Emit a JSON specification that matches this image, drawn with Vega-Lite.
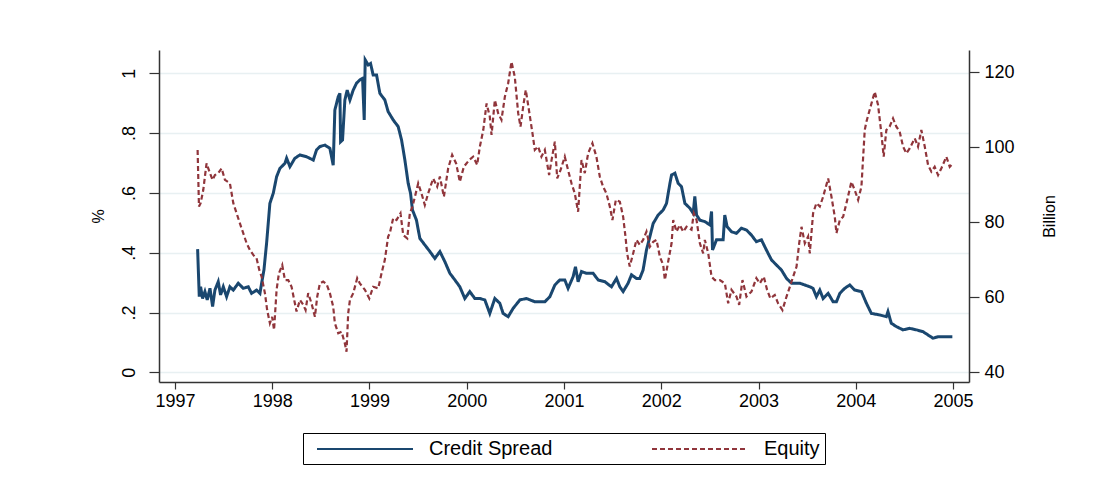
{
  "$schema": "https://vega.github.io/schema/vega-lite/v6.json",
  "autosize": {"type": "none"},
  "padding": {"left": 159, "top": 50, "right": 138, "bottom": 106},
  "width": 810,
  "height": 332,
  "background": "white",
  "config": {
    "view": {"stroke": null},
    "font": "Liberation Sans",
    "axis": {"domainColor": "#333333", "tickColor": "#333333", "labelColor": "#000000", "titleColor": "#000000", "labelFont": "Liberation Sans", "titleFont": "Liberation Sans", "titleFontWeight": "normal", "domainWidth": 1.5, "tickWidth": 1.2},
    "legend": {"layout": {"bottom": {"anchor": "middle"}}}
  },
  "data": {"values": [
{"s":"Credit Spread","t":1997.233,"v":0.412},{"s":"Credit Spread","t":1997.25,"v":0.253},{"s":"Credit Spread","t":1997.264,"v":0.286},{"s":"Credit Spread","t":1997.284,"v":0.247},{"s":"Credit Spread","t":1997.308,"v":0.27},{"s":"Credit Spread","t":1997.332,"v":0.242},{"s":"Credit Spread","t":1997.36,"v":0.281},{"s":"Credit Spread","t":1997.387,"v":0.22},{"s":"Credit Spread","t":1997.411,"v":0.275},{"s":"Credit Spread","t":1997.445,"v":0.303},{"s":"Credit Spread","t":1997.469,"v":0.259},{"s":"Credit Spread","t":1997.497,"v":0.286},{"s":"Credit Spread","t":1997.531,"v":0.253},{"s":"Credit Spread","t":1997.565,"v":0.286},{"s":"Credit Spread","t":1997.6,"v":0.275},{"s":"Credit Spread","t":1997.651,"v":0.298},{"s":"Credit Spread","t":1997.702,"v":0.281},{"s":"Credit Spread","t":1997.754,"v":0.286},{"s":"Credit Spread","t":1997.788,"v":0.264},{"s":"Credit Spread","t":1997.839,"v":0.275},{"s":"Credit Spread","t":1997.874,"v":0.264},{"s":"Credit Spread","t":1997.891,"v":0.298},{"s":"Credit Spread","t":1997.915,"v":0.342},{"s":"Credit Spread","t":1997.942,"v":0.431},{"s":"Credit Spread","t":1997.976,"v":0.565},{"s":"Credit Spread","t":1998.011,"v":0.599},{"s":"Credit Spread","t":1998.045,"v":0.654},{"s":"Credit Spread","t":1998.079,"v":0.682},{"s":"Credit Spread","t":1998.131,"v":0.699},{"s":"Credit Spread","t":1998.148,"v":0.716},{"s":"Credit Spread","t":1998.182,"v":0.688},{"s":"Credit Spread","t":1998.233,"v":0.716},{"s":"Credit Spread","t":1998.285,"v":0.727},{"s":"Credit Spread","t":1998.353,"v":0.721},{"s":"Credit Spread","t":1998.422,"v":0.71},{"s":"Credit Spread","t":1998.456,"v":0.744},{"s":"Credit Spread","t":1998.49,"v":0.755},{"s":"Credit Spread","t":1998.542,"v":0.76},{"s":"Credit Spread","t":1998.593,"v":0.749},{"s":"Credit Spread","t":1998.627,"v":0.693},{"s":"Credit Spread","t":1998.644,"v":0.877},{"s":"Credit Spread","t":1998.679,"v":0.922},{"s":"Credit Spread","t":1998.696,"v":0.933},{"s":"Credit Spread","t":1998.703,"v":0.771},{"s":"Credit Spread","t":1998.723,"v":0.777},{"s":"Credit Spread","t":1998.747,"v":0.911},{"s":"Credit Spread","t":1998.771,"v":0.944},{"s":"Credit Spread","t":1998.799,"v":0.911},{"s":"Credit Spread","t":1998.833,"v":0.944},{"s":"Credit Spread","t":1998.867,"v":0.967},{"s":"Credit Spread","t":1998.901,"v":0.978},{"s":"Credit Spread","t":1998.929,"v":0.983},{"s":"Credit Spread","t":1998.946,"v":0.844},{"s":"Credit Spread","t":1998.956,"v":1.045},{"s":"Credit Spread","t":1998.987,"v":1.028},{"s":"Credit Spread","t":1999.011,"v":1.033},{"s":"Credit Spread","t":1999.038,"v":0.994},{"s":"Credit Spread","t":1999.073,"v":0.994},{"s":"Credit Spread","t":1999.107,"v":0.933},{"s":"Credit Spread","t":1999.158,"v":0.911},{"s":"Credit Spread","t":1999.192,"v":0.872},{"s":"Credit Spread","t":1999.244,"v":0.844},{"s":"Credit Spread","t":1999.295,"v":0.822},{"s":"Credit Spread","t":1999.33,"v":0.777},{"s":"Credit Spread","t":1999.364,"v":0.71},{"s":"Credit Spread","t":1999.398,"v":0.632},{"s":"Credit Spread","t":1999.422,"v":0.599},{"s":"Credit Spread","t":1999.442,"v":0.543},{"s":"Credit Spread","t":1999.483,"v":0.509},{"s":"Credit Spread","t":1999.518,"v":0.448},{"s":"Credit Spread","t":1999.569,"v":0.426},{"s":"Credit Spread","t":1999.621,"v":0.404},{"s":"Credit Spread","t":1999.672,"v":0.381},{"s":"Credit Spread","t":1999.724,"v":0.404},{"s":"Credit Spread","t":1999.775,"v":0.37},{"s":"Credit Spread","t":1999.827,"v":0.331},{"s":"Credit Spread","t":1999.878,"v":0.309},{"s":"Credit Spread","t":1999.929,"v":0.286},{"s":"Credit Spread","t":1999.98,"v":0.247},{"s":"Credit Spread","t":2000.031,"v":0.27},{"s":"Credit Spread","t":2000.083,"v":0.247},{"s":"Credit Spread","t":2000.135,"v":0.247},{"s":"Credit Spread","t":2000.186,"v":0.242},{"s":"Credit Spread","t":2000.237,"v":0.197},{"s":"Credit Spread","t":2000.289,"v":0.247},{"s":"Credit Spread","t":2000.34,"v":0.231},{"s":"Credit Spread","t":2000.374,"v":0.197},{"s":"Credit Spread","t":2000.426,"v":0.186},{"s":"Credit Spread","t":2000.477,"v":0.214},{"s":"Credit Spread","t":2000.546,"v":0.242},{"s":"Credit Spread","t":2000.614,"v":0.247},{"s":"Credit Spread","t":2000.7,"v":0.236},{"s":"Credit Spread","t":2000.803,"v":0.236},{"s":"Credit Spread","t":2000.855,"v":0.253},{"s":"Credit Spread","t":2000.906,"v":0.292},{"s":"Credit Spread","t":2000.957,"v":0.309},{"s":"Credit Spread","t":2001.008,"v":0.309},{"s":"Credit Spread","t":2001.042,"v":0.281},{"s":"Credit Spread","t":2001.094,"v":0.32},{"s":"Credit Spread","t":2001.118,"v":0.353},{"s":"Credit Spread","t":2001.145,"v":0.303},{"s":"Credit Spread","t":2001.18,"v":0.337},{"s":"Credit Spread","t":2001.231,"v":0.331},{"s":"Credit Spread","t":2001.3,"v":0.331},{"s":"Credit Spread","t":2001.351,"v":0.309},{"s":"Credit Spread","t":2001.42,"v":0.303},{"s":"Credit Spread","t":2001.488,"v":0.286},{"s":"Credit Spread","t":2001.54,"v":0.314},{"s":"Credit Spread","t":2001.574,"v":0.286},{"s":"Credit Spread","t":2001.608,"v":0.27},{"s":"Credit Spread","t":2001.659,"v":0.298},{"s":"Credit Spread","t":2001.694,"v":0.326},{"s":"Credit Spread","t":2001.745,"v":0.314},{"s":"Credit Spread","t":2001.779,"v":0.314},{"s":"Credit Spread","t":2001.813,"v":0.342},{"s":"Credit Spread","t":2001.848,"v":0.409},{"s":"Credit Spread","t":2001.883,"v":0.454},{"s":"Credit Spread","t":2001.917,"v":0.498},{"s":"Credit Spread","t":2001.968,"v":0.526},{"s":"Credit Spread","t":2002.02,"v":0.543},{"s":"Credit Spread","t":2002.054,"v":0.565},{"s":"Credit Spread","t":2002.089,"v":0.632},{"s":"Credit Spread","t":2002.106,"v":0.66},{"s":"Credit Spread","t":2002.14,"v":0.666},{"s":"Credit Spread","t":2002.174,"v":0.632},{"s":"Credit Spread","t":2002.208,"v":0.621},{"s":"Credit Spread","t":2002.243,"v":0.565},{"s":"Credit Spread","t":2002.294,"v":0.549},{"s":"Credit Spread","t":2002.328,"v":0.532},{"s":"Credit Spread","t":2002.345,"v":0.588},{"s":"Credit Spread","t":2002.363,"v":0.526},{"s":"Credit Spread","t":2002.397,"v":0.509},{"s":"Credit Spread","t":2002.448,"v":0.504},{"s":"Credit Spread","t":2002.5,"v":0.493},{"s":"Credit Spread","t":2002.517,"v":0.538},{"s":"Credit Spread","t":2002.527,"v":0.409},{"s":"Credit Spread","t":2002.568,"v":0.443},{"s":"Credit Spread","t":2002.636,"v":0.443},{"s":"Credit Spread","t":2002.653,"v":0.526},{"s":"Credit Spread","t":2002.677,"v":0.487},{"s":"Credit Spread","t":2002.722,"v":0.47},{"s":"Credit Spread","t":2002.773,"v":0.465},{"s":"Credit Spread","t":2002.824,"v":0.482},{"s":"Credit Spread","t":2002.876,"v":0.476},{"s":"Credit Spread","t":2002.927,"v":0.459},{"s":"Credit Spread","t":2002.978,"v":0.437},{"s":"Credit Spread","t":2003.03,"v":0.443},{"s":"Credit Spread","t":2003.081,"v":0.409},{"s":"Credit Spread","t":2003.133,"v":0.376},{"s":"Credit Spread","t":2003.184,"v":0.359},{"s":"Credit Spread","t":2003.236,"v":0.342},{"s":"Credit Spread","t":2003.288,"v":0.314},{"s":"Credit Spread","t":2003.339,"v":0.298},{"s":"Credit Spread","t":2003.425,"v":0.298},{"s":"Credit Spread","t":2003.476,"v":0.292},{"s":"Credit Spread","t":2003.528,"v":0.286},{"s":"Credit Spread","t":2003.56,"v":0.281},{"s":"Credit Spread","t":2003.595,"v":0.253},{"s":"Credit Spread","t":2003.63,"v":0.275},{"s":"Credit Spread","t":2003.664,"v":0.247},{"s":"Credit Spread","t":2003.716,"v":0.264},{"s":"Credit Spread","t":2003.767,"v":0.236},{"s":"Credit Spread","t":2003.801,"v":0.236},{"s":"Credit Spread","t":2003.836,"v":0.264},{"s":"Credit Spread","t":2003.886,"v":0.281},{"s":"Credit Spread","t":2003.938,"v":0.292},{"s":"Credit Spread","t":2003.989,"v":0.275},{"s":"Credit Spread","t":2004.058,"v":0.27},{"s":"Credit Spread","t":2004.109,"v":0.231},{"s":"Credit Spread","t":2004.16,"v":0.197},{"s":"Credit Spread","t":2004.246,"v":0.192},{"s":"Credit Spread","t":2004.314,"v":0.186},{"s":"Credit Spread","t":2004.331,"v":0.203},{"s":"Credit Spread","t":2004.365,"v":0.164},{"s":"Credit Spread","t":2004.417,"v":0.153},{"s":"Credit Spread","t":2004.485,"v":0.142},{"s":"Credit Spread","t":2004.554,"v":0.147},{"s":"Credit Spread","t":2004.623,"v":0.142},{"s":"Credit Spread","t":2004.691,"v":0.136},{"s":"Credit Spread","t":2004.742,"v":0.125},{"s":"Credit Spread","t":2004.794,"v":0.114},{"s":"Credit Spread","t":2004.845,"v":0.119},{"s":"Credit Spread","t":2004.897,"v":0.119},{"s":"Credit Spread","t":2004.948,"v":0.119},{"s":"Credit Spread","t":2004.993,"v":0.119},
{"s":"Equity","t":1997.233,"v":99.3},{"s":"Equity","t":1997.247,"v":84.2},{"s":"Equity","t":1997.264,"v":85.1},{"s":"Equity","t":1997.291,"v":88.6},{"s":"Equity","t":1997.325,"v":95.7},{"s":"Equity","t":1997.36,"v":93.1},{"s":"Equity","t":1997.387,"v":91.3},{"s":"Equity","t":1997.411,"v":92.6},{"s":"Equity","t":1997.445,"v":93.1},{"s":"Equity","t":1997.48,"v":94.4},{"s":"Equity","t":1997.514,"v":91.3},{"s":"Equity","t":1997.565,"v":90.4},{"s":"Equity","t":1997.6,"v":85.1},{"s":"Equity","t":1997.634,"v":82.4},{"s":"Equity","t":1997.668,"v":79.7},{"s":"Equity","t":1997.702,"v":77.1},{"s":"Equity","t":1997.737,"v":74.4},{"s":"Equity","t":1997.771,"v":72.6},{"s":"Equity","t":1997.805,"v":71.3},{"s":"Equity","t":1997.839,"v":70.4},{"s":"Equity","t":1997.867,"v":67.3},{"s":"Equity","t":1997.891,"v":65.5},{"s":"Equity","t":1997.925,"v":61.1},{"s":"Equity","t":1997.948,"v":56.6},{"s":"Equity","t":1997.976,"v":53.1},{"s":"Equity","t":1997.999,"v":54.8},{"s":"Equity","t":1998.019,"v":51.3},{"s":"Equity","t":1998.045,"v":62.0},{"s":"Equity","t":1998.069,"v":66.4},{"s":"Equity","t":1998.103,"v":68.6},{"s":"Equity","t":1998.131,"v":64.6},{"s":"Equity","t":1998.165,"v":64.6},{"s":"Equity","t":1998.199,"v":62.8},{"s":"Equity","t":1998.233,"v":58.4},{"s":"Equity","t":1998.25,"v":56.2},{"s":"Equity","t":1998.285,"v":59.3},{"s":"Equity","t":1998.319,"v":58.0},{"s":"Equity","t":1998.343,"v":56.6},{"s":"Equity","t":1998.37,"v":61.1},{"s":"Equity","t":1998.404,"v":58.4},{"s":"Equity","t":1998.439,"v":54.8},{"s":"Equity","t":1998.463,"v":60.2},{"s":"Equity","t":1998.49,"v":63.7},{"s":"Equity","t":1998.524,"v":64.2},{"s":"Equity","t":1998.559,"v":63.5},{"s":"Equity","t":1998.593,"v":61.1},{"s":"Equity","t":1998.627,"v":57.5},{"s":"Equity","t":1998.644,"v":53.1},{"s":"Equity","t":1998.679,"v":50.4},{"s":"Equity","t":1998.713,"v":50.8},{"s":"Equity","t":1998.747,"v":47.7},{"s":"Equity","t":1998.764,"v":45.5},{"s":"Equity","t":1998.781,"v":55.7},{"s":"Equity","t":1998.799,"v":59.3},{"s":"Equity","t":1998.833,"v":61.1},{"s":"Equity","t":1998.874,"v":65.1},{"s":"Equity","t":1998.901,"v":63.7},{"s":"Equity","t":1998.953,"v":62.0},{"s":"Equity","t":1998.998,"v":59.7},{"s":"Equity","t":1999.038,"v":62.8},{"s":"Equity","t":1999.09,"v":62.4},{"s":"Equity","t":1999.124,"v":66.4},{"s":"Equity","t":1999.158,"v":70.0},{"s":"Equity","t":1999.192,"v":76.2},{"s":"Equity","t":1999.209,"v":77.1},{"s":"Equity","t":1999.244,"v":81.1},{"s":"Equity","t":1999.278,"v":80.6},{"s":"Equity","t":1999.319,"v":82.4},{"s":"Equity","t":1999.347,"v":76.6},{"s":"Equity","t":1999.388,"v":75.7},{"s":"Equity","t":1999.415,"v":82.4},{"s":"Equity","t":1999.442,"v":84.2},{"s":"Equity","t":1999.467,"v":86.8},{"s":"Equity","t":1999.501,"v":90.4},{"s":"Equity","t":1999.535,"v":87.7},{"s":"Equity","t":1999.569,"v":84.6},{"s":"Equity","t":1999.603,"v":87.7},{"s":"Equity","t":1999.655,"v":91.7},{"s":"Equity","t":1999.696,"v":89.5},{"s":"Equity","t":1999.724,"v":92.2},{"s":"Equity","t":1999.765,"v":86.8},{"s":"Equity","t":1999.809,"v":94.4},{"s":"Equity","t":1999.85,"v":98.0},{"s":"Equity","t":1999.891,"v":95.7},{"s":"Equity","t":1999.929,"v":90.8},{"s":"Equity","t":1999.97,"v":94.8},{"s":"Equity","t":2000.025,"v":96.6},{"s":"Equity","t":2000.066,"v":97.5},{"s":"Equity","t":2000.107,"v":95.3},{"s":"Equity","t":2000.135,"v":100.2},{"s":"Equity","t":2000.17,"v":104.6},{"s":"Equity","t":2000.204,"v":111.7},{"s":"Equity","t":2000.237,"v":108.2},{"s":"Equity","t":2000.255,"v":103.3},{"s":"Equity","t":2000.289,"v":112.6},{"s":"Equity","t":2000.323,"v":109.1},{"s":"Equity","t":2000.357,"v":107.3},{"s":"Equity","t":2000.392,"v":113.5},{"s":"Equity","t":2000.426,"v":117.1},{"s":"Equity","t":2000.46,"v":122.8},{"s":"Equity","t":2000.494,"v":118.8},{"s":"Equity","t":2000.529,"v":109.1},{"s":"Equity","t":2000.553,"v":105.5},{"s":"Equity","t":2000.58,"v":110.8},{"s":"Equity","t":2000.607,"v":115.3},{"s":"Equity","t":2000.642,"v":109.5},{"s":"Equity","t":2000.676,"v":103.7},{"s":"Equity","t":2000.7,"v":99.3},{"s":"Equity","t":2000.734,"v":100.2},{"s":"Equity","t":2000.768,"v":97.5},{"s":"Equity","t":2000.803,"v":99.3},{"s":"Equity","t":2000.847,"v":92.6},{"s":"Equity","t":2000.872,"v":96.6},{"s":"Equity","t":2000.906,"v":101.5},{"s":"Equity","t":2000.93,"v":91.7},{"s":"Equity","t":2000.964,"v":93.9},{"s":"Equity","t":2001.008,"v":97.5},{"s":"Equity","t":2001.042,"v":93.9},{"s":"Equity","t":2001.077,"v":90.4},{"s":"Equity","t":2001.111,"v":87.7},{"s":"Equity","t":2001.145,"v":82.8},{"s":"Equity","t":2001.18,"v":96.6},{"s":"Equity","t":2001.214,"v":93.1},{"s":"Equity","t":2001.248,"v":98.4},{"s":"Equity","t":2001.292,"v":101.1},{"s":"Equity","t":2001.333,"v":97.5},{"s":"Equity","t":2001.368,"v":92.2},{"s":"Equity","t":2001.402,"v":89.5},{"s":"Equity","t":2001.436,"v":87.7},{"s":"Equity","t":2001.471,"v":84.2},{"s":"Equity","t":2001.498,"v":80.6},{"s":"Equity","t":2001.533,"v":86.0},{"s":"Equity","t":2001.574,"v":85.5},{"s":"Equity","t":2001.608,"v":81.5},{"s":"Equity","t":2001.632,"v":76.2},{"s":"Equity","t":2001.649,"v":71.7},{"s":"Equity","t":2001.676,"v":68.2},{"s":"Equity","t":2001.711,"v":71.7},{"s":"Equity","t":2001.745,"v":75.3},{"s":"Equity","t":2001.779,"v":74.0},{"s":"Equity","t":2001.813,"v":75.3},{"s":"Equity","t":2001.848,"v":77.5},{"s":"Equity","t":2001.883,"v":73.5},{"s":"Equity","t":2001.917,"v":74.8},{"s":"Equity","t":2001.951,"v":75.3},{"s":"Equity","t":2001.986,"v":70.8},{"s":"Equity","t":2002.02,"v":68.6},{"s":"Equity","t":2002.037,"v":64.6},{"s":"Equity","t":2002.071,"v":69.5},{"s":"Equity","t":2002.106,"v":74.4},{"s":"Equity","t":2002.123,"v":80.6},{"s":"Equity","t":2002.157,"v":77.5},{"s":"Equity","t":2002.191,"v":79.3},{"s":"Equity","t":2002.226,"v":77.5},{"s":"Equity","t":2002.26,"v":78.8},{"s":"Equity","t":2002.311,"v":78.0},{"s":"Equity","t":2002.335,"v":82.4},{"s":"Equity","t":2002.363,"v":80.6},{"s":"Equity","t":2002.397,"v":74.4},{"s":"Equity","t":2002.431,"v":71.7},{"s":"Equity","t":2002.448,"v":75.3},{"s":"Equity","t":2002.483,"v":71.7},{"s":"Equity","t":2002.517,"v":65.5},{"s":"Equity","t":2002.551,"v":64.6},{"s":"Equity","t":2002.602,"v":64.6},{"s":"Equity","t":2002.654,"v":63.7},{"s":"Equity","t":2002.688,"v":58.4},{"s":"Equity","t":2002.722,"v":62.0},{"s":"Equity","t":2002.773,"v":60.2},{"s":"Equity","t":2002.801,"v":58.0},{"s":"Equity","t":2002.835,"v":64.6},{"s":"Equity","t":2002.876,"v":60.2},{"s":"Equity","t":2002.927,"v":61.5},{"s":"Equity","t":2002.978,"v":65.1},{"s":"Equity","t":2003.013,"v":63.7},{"s":"Equity","t":2003.054,"v":65.5},{"s":"Equity","t":2003.088,"v":62.0},{"s":"Equity","t":2003.122,"v":59.7},{"s":"Equity","t":2003.167,"v":60.6},{"s":"Equity","t":2003.201,"v":58.4},{"s":"Equity","t":2003.246,"v":56.6},{"s":"Equity","t":2003.288,"v":60.2},{"s":"Equity","t":2003.322,"v":62.8},{"s":"Equity","t":2003.356,"v":65.5},{"s":"Equity","t":2003.391,"v":68.2},{"s":"Equity","t":2003.418,"v":74.4},{"s":"Equity","t":2003.442,"v":78.8},{"s":"Equity","t":2003.476,"v":74.4},{"s":"Equity","t":2003.51,"v":76.2},{"s":"Equity","t":2003.527,"v":71.7},{"s":"Equity","t":2003.561,"v":82.4},{"s":"Equity","t":2003.595,"v":85.1},{"s":"Equity","t":2003.63,"v":84.2},{"s":"Equity","t":2003.664,"v":86.8},{"s":"Equity","t":2003.716,"v":91.7},{"s":"Equity","t":2003.75,"v":86.8},{"s":"Equity","t":2003.784,"v":81.5},{"s":"Equity","t":2003.801,"v":77.1},{"s":"Equity","t":2003.836,"v":80.6},{"s":"Equity","t":2003.87,"v":81.5},{"s":"Equity","t":2003.904,"v":85.1},{"s":"Equity","t":2003.955,"v":90.8},{"s":"Equity","t":2003.989,"v":88.6},{"s":"Equity","t":2004.024,"v":86.0},{"s":"Equity","t":2004.058,"v":89.5},{"s":"Equity","t":2004.092,"v":104.6},{"s":"Equity","t":2004.109,"v":106.8},{"s":"Equity","t":2004.143,"v":110.0},{"s":"Equity","t":2004.171,"v":112.6},{"s":"Equity","t":2004.195,"v":114.8},{"s":"Equity","t":2004.229,"v":111.3},{"s":"Equity","t":2004.263,"v":103.7},{"s":"Equity","t":2004.287,"v":97.5},{"s":"Equity","t":2004.314,"v":104.6},{"s":"Equity","t":2004.348,"v":105.5},{"s":"Equity","t":2004.383,"v":107.7},{"s":"Equity","t":2004.417,"v":105.5},{"s":"Equity","t":2004.451,"v":104.2},{"s":"Equity","t":2004.486,"v":100.2},{"s":"Equity","t":2004.52,"v":98.4},{"s":"Equity","t":2004.554,"v":99.7},{"s":"Equity","t":2004.606,"v":102.4},{"s":"Equity","t":2004.64,"v":100.2},{"s":"Equity","t":2004.674,"v":104.6},{"s":"Equity","t":2004.709,"v":100.2},{"s":"Equity","t":2004.743,"v":95.3},{"s":"Equity","t":2004.777,"v":93.5},{"s":"Equity","t":2004.811,"v":94.8},{"s":"Equity","t":2004.846,"v":92.6},{"s":"Equity","t":2004.88,"v":94.4},{"s":"Equity","t":2004.931,"v":97.5},{"s":"Equity","t":2004.966,"v":94.8},{"s":"Equity","t":2004.983,"v":95.3}
  ]},
  "encoding": {
    "x": {"field": "t", "type": "quantitative", "scale": {"domain": [1996.836, 2005.164], "nice": false, "zero": false},
      "axis": {"title": null, "values": [1997,1998,1999,2000,2001,2002,2003,2004,2005], "format": "d", "grid": false, "tickSize": 7, "labelFontSize": 18, "labelPadding": 3}},
    "color": {"field": "s", "type": "nominal", "scale": {"domain": ["Credit Spread", "Equity"], "range": ["#1a476f", "#90353b"]},
      "legend": {"title": null, "orient": "bottom", "direction": "horizontal", "offset": 23, "fillColor": "white", "strokeColor": "#000000", "padding": 5, "symbolType": "M-4.8,0H4.8", "symbolSize": 400, "symbolOffset": 46, "symbolStrokeWidth": 2, "labelFontSize": 20, "labelFont": "Liberation Sans", "labelColor": "#000000", "labelOffset": 53, "columnPadding": 90}},
    "strokeDash": {"field": "s", "type": "nominal", "scale": {"domain": ["Credit Spread", "Equity"], "range": [[1, 0], [5, 3]]}, "legend": {"title": null}}
  },
  "layer": [
    {
      "transform": [{"filter": "datum.s == 'Credit Spread'"}],
      "mark": {"type": "line", "strokeWidth": 3, "interpolate": "linear"},
      "encoding": {
        "y": {"field": "v", "type": "quantitative", "scale": {"domain": [-0.0324, 1.078], "nice": false, "zero": false},
          "axis": {"orient": "left", "title": "%", "titleFontSize": 16, "titlePadding": 14, "values": [0, 0.2, 0.4, 0.6, 0.8, 1], "labelExpr": "replace(format(datum.value, '.1~f'), '0.', '.')", "labelAngle": -90, "labelAlign": "center", "labelBaseline": "bottom", "labelFontSize": 18, "labelPadding": 11, "tickSize": 10, "grid": true, "gridColor": "#e8f0f2", "gridWidth": 1.5}}
      }
    },
    {
      "transform": [{"filter": "datum.s == 'Equity'"}],
      "mark": {"type": "line", "strokeWidth": 2.2, "interpolate": "linear"},
      "encoding": {
        "y": {"field": "v", "type": "quantitative", "scale": {"domain": [37.41, 125.95], "nice": false, "zero": false},
          "axis": {"orient": "right", "title": "Billion", "titleFontSize": 16, "titleAngle": -90, "titleBaseline": "top", "titlePadding": 27, "values": [40, 60, 80, 100, 120], "labelFontSize": 18, "labelPadding": 5, "tickSize": 10, "grid": false}}
      }
    }
  ],
  "resolve": {"scale": {"y": "independent"}, "axis": {"y": "independent"}}
}
